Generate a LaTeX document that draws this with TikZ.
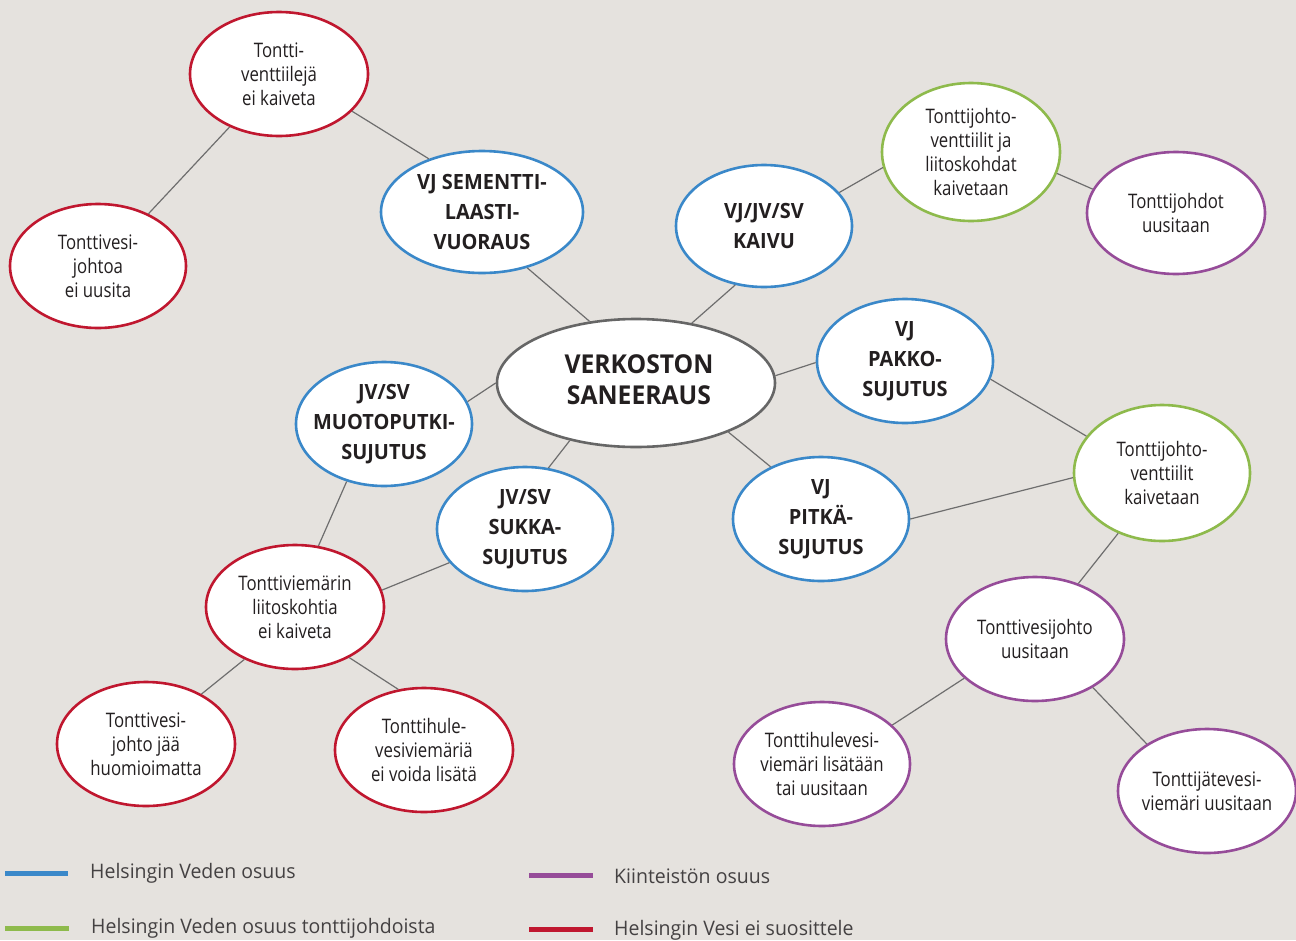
\documentclass[tikz,border=0pt]{standalone}
\usepackage{fontspec}
\setmainfont{Open Sans}
\newfontfamily\narrowfont{Open Sans}[FakeStretch=0.84]
\newfontfamily\boldfont{Open Sans}[FakeStretch=0.95]
\newfontfamily\legfont{Open Sans}[FakeStretch=0.975]
\usetikzlibrary{shapes.geometric}
\definecolor{bgc}{HTML}{E5E2DE}
\definecolor{hvblue}{HTML}{3A88C9}
\definecolor{hvgreen}{HTML}{8EBA4C}
\definecolor{hvpurple}{HTML}{964C99}
\definecolor{hvred}{HTML}{C0172F}
\definecolor{hvgray}{HTML}{666666}
\definecolor{txt}{HTML}{231F20}
\definecolor{conn}{HTML}{6E6E6E}
\tikzset{
  bub/.style={ellipse, fill=white, line width=2.6pt, inner xsep=-30pt, inner ysep=-30pt,
    minimum width=178pt, minimum height=124pt, align=center, text=txt,
    font=\narrowfont\fontsize{20}{24}\selectfont},
  bbub/.style={bub, draw=hvblue, minimum width=176pt,
    font=\boldfont\bfseries\fontsize{21}{30}\selectfont},
  rbub/.style={bub, draw=hvred},
  gbub/.style={bub, draw=hvgreen},
  pbub/.style={bub, draw=hvpurple},
  link/.style={draw=conn, line width=1.2pt},
  legline/.style={line width=5pt},
  legtext/.style={anchor=west, text=txt!85, inner sep=0pt, font=\legfont\fontsize{20}{24}\selectfont}
}
\begin{document}
\begin{tikzpicture}[x=1pt,y=-1pt]
\fill[bgc] (0,0) rectangle (1296,940);
\useasboundingbox (0,0) rectangle (1296,940);

\node[rbub] (n1) at (279,74) {Tontti-\\venttiilejä\\ei kaiveta};
\node[rbub, minimum width=176pt] (n2) at (98,266) {Tonttivesi-\\johtoa\\ei uusita};
\node[bbub, minimum width=202pt, minimum height=122pt] (n3) at (482,212) {VJ SEMENTTI-\\LAASTI-\\VUORAUS};
\node[bbub, minimum height=122pt] (n4) at (764,226) {VJ/JV/SV\\KAIVU};
\node[gbub, minimum height=138pt] (n5) at (971,152) {Tonttijohto-\\venttiilit ja\\liitoskohdat\\kaivetaan};
\node[pbub, minimum height=122pt] (n6) at (1176,213) {Tonttijohdot\\uusitaan};
\node[bub, draw=hvgray, minimum width=278pt, minimum height=128pt] (n7) at (636,383) {};
\node[align=center, text=txt, inner sep=0pt, font=\boldfont\bfseries\fontsize{26}{31}\selectfont]
  (n7t) at (639,380) {VERKOSTON\\SANEERAUS};
\node[bbub] (n8) at (905,361) {VJ\\PAKKO-\\SUJUTUS};
\node[bbub] (n9) at (384,424) {JV/SV\\MUOTOPUTKI-\\SUJUTUS};
\node[bbub] (n10) at (525,529) {JV/SV\\SUKKA-\\SUJUTUS};
\node[bbub] (n11) at (821,519) {VJ\\PITKÄ-\\SUJUTUS};
\node[gbub, minimum width=176pt, minimum height=136pt] (n12) at (1162,473) {Tonttijohto-\\venttiilit\\kaivetaan};
\node[rbub] (n13) at (295,607) {Tonttiviemärin\\liitoskohtia\\ei kaiveta};
\node[pbub] (n14) at (1035,639) {Tonttivesijohto\\uusitaan};
\node[rbub] (n15) at (146,744) {Tonttivesi-\\johto jää\\huomioimatta};
\node[rbub] (n16) at (424,750) {Tonttihule-\\vesiviemäriä\\ei voida lisätä};
\node[pbub, minimum width=176pt] (n17) at (822,764) {Tonttihulevesi-\\viemäri lisätään\\tai uusitaan};
\node[pbub] (n18) at (1207,791) {Tonttijätevesi-\\viemäri uusitaan};

\path[link] (n1.227.8) -- (n2.46.7);
\path[link] (n1.-27.5) -- (n3.135);
\path[link] (n3.-51.3) -- (n7.127.9);
\path[link] (n4.244.2) -- (n7.47.4);
\path[link] (n4.24.1) -- (n5.190.2);
\path[link] (n5.-14.8) -- (n6.164.5);
\path[link] (n7.3.7) -- (n8.181.3);
\path[link] (n8.-12.2) -- (n12.154);
\path[link] (n7.180) -- (n9.15.9);
\path[link] (n7.221.3) -- (n10.69.3);
\path[link] (n7.-28) -- (n11.134.4);
\path[link] (n11.-0.6) -- (n12.183.9);
\path[link] (n12.234.7) -- (n14.52.6);
\path[link] (n9.237.7) -- (n13.69.3);
\path[link] (n10.204.4) -- (n13.11.1);
\path[link] (n13.226.6) -- (n15.42.8);
\path[link] (n13.-43.4) -- (n16.113.9);
\path[link] (n14.209.3) -- (n17.29.9);
\path[link] (n14.-40.2) -- (n18.142);

% legend
\draw[legline, hvblue] (5,873) -- (68,873);
\node[legtext] (l1) at (90,873) {Helsingin Veden osuus};
\draw[legline, hvgreen] (5,928) -- (69,928);
\node[legtext] (l2) at (91,928) {Helsingin Veden osuus tonttijohdoista};
\draw[legline, hvpurple] (529,875) -- (593,875);
\node[legtext] (l3) at (614,876) {Kiinteistön osuus};
\draw[legline, hvred] (529,929) -- (593,929);
\node[legtext] (l4) at (614,930) {Helsingin Vesi ei suosittele};
\end{tikzpicture}
\end{document}
